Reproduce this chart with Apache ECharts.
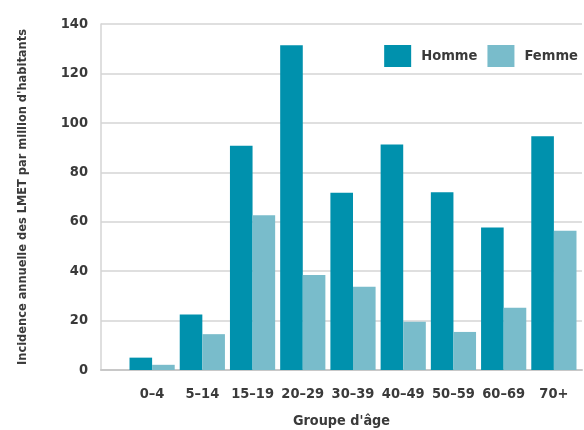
<!DOCTYPE html>
<html>
<head>
<meta charset="utf-8">
<script src="https://cdn.jsdelivr.net/npm/echarts@6/dist/echarts.min.js"></script>
<style>
html,body{margin:0;padding:0;background:#fff;}
#chart{width:584px;height:430px;}
</style>
</head>
<body>
<div id="chart"></div>
<script>
var categories = ['0–4', '5–14', '15–19', '20–29', '30–39', '40–49', '50–59', '60–69', '70+'];
var homme = [5, 22.5, 90.7, 131.4, 71.7, 91.2, 71.9, 57.7, 94.6];
var femme = [2.1, 14.5, 62.6, 38.4, 33.7, 19.5, 15.4, 25.2, 56.3];
var yTicks = { min: 0, max: 140, interval: 20 };

var FONT = '"Liberation Sans Narrow", "DejaVu Sans Condensed", sans-serif';
var TXT = '#3a3a3a';

var chart = echarts.init(document.getElementById('chart'), null, { renderer: 'canvas' });
chart.setOption({
  animation: false,
  backgroundColor: '#ffffff',
  textStyle: { fontFamily: FONT },
  legend: {
    right: 1,
    top: 40,
    itemWidth: 27,
    itemHeight: 22,
    itemGap: 10,
    icon: 'rect',
    textStyle: { fontFamily: FONT, fontSize: 14.6, fontWeight: 'bold', color: TXT, padding: [0, 0, 0, 5] },
    data: ['Homme', 'Femme']
  },
  grid: [
    { left: 101, right: 2, top: 24, bottom: 60, outerBoundsMode: 'none', containLabel: false },
    { left: 127, right: 5, top: 24, bottom: 60, outerBoundsMode: 'none', containLabel: false }
  ],
  xAxis: [
    {
      gridIndex: 0, type: 'value', min: 0, max: 1,
      axisLine: { show: true, lineStyle: { color: '#c8c8c8', width: 2 } },
      axisTick: { show: false }, axisLabel: { show: false }, splitLine: { show: false },
      name: "Groupe d'âge", nameLocation: 'middle', nameGap: 44,
      nameTextStyle: { fontFamily: FONT, fontSize: 14.3, fontWeight: 'bold', color: TXT }
    },
    {
      gridIndex: 1, type: 'category', data: categories,
      axisLine: { show: false }, axisTick: { show: false },
      axisLabel: { interval: 0, margin: 17, fontFamily: FONT, fontSize: 14.5, fontWeight: 'bold', color: TXT }
    }
  ],
  yAxis: [
    {
      gridIndex: 0, type: 'value', min: yTicks.min, max: yTicks.max, interval: yTicks.interval,
      axisLine: { show: true, lineStyle: { color: '#d5d5d5', width: 1.5 } },
      axisTick: { show: false },
      splitLine: { show: true, lineStyle: { color: '#d5d5d5', width: 1.5 } },
      axisLabel: { margin: 13, fontFamily: FONT, fontSize: 14.5, fontWeight: 'bold', color: TXT },
      name: "Incidence annuelle des LMET par million d'habitants",
      nameLocation: 'middle', nameGap: 72,
      nameTextStyle: { fontFamily: FONT, fontSize: 12.7, fontWeight: 'bold', color: TXT }
    },
    {
      gridIndex: 1, type: 'value', min: yTicks.min, max: yTicks.max, interval: yTicks.interval,
      show: false, splitLine: { show: false }
    }
  ],
  series: [
    {
      name: 'Homme', type: 'bar', xAxisIndex: 1, yAxisIndex: 1,
      data: homme, barWidth: 22.6, barGap: '0%',
      itemStyle: { color: '#0091ad' }
    },
    {
      name: 'Femme', type: 'bar', xAxisIndex: 1, yAxisIndex: 1,
      data: femme, barWidth: 22.6, barGap: '0%',
      itemStyle: { color: '#79bccb' }
    }
  ]
});
</script>
</body>
</html>
